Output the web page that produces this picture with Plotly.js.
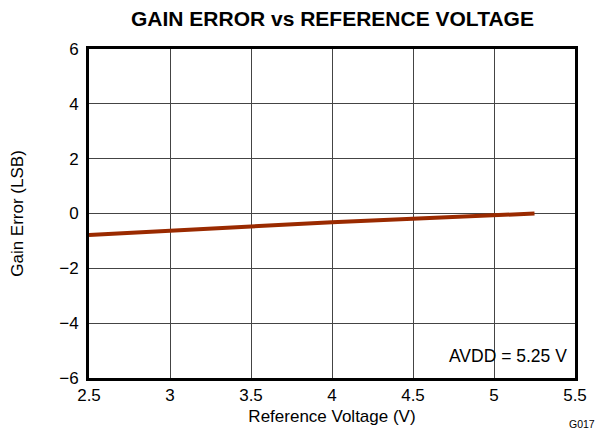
<!DOCTYPE html>
<html><head><meta charset="utf-8">
<script src="https://cdn.plot.ly/plotly-3.0.1.min.js"></script>
<style>html,body{margin:0;padding:0;background:#fff;}#chart{width:599px;height:434px;}</style>
</head><body><div id="chart"></div>
<script>
const refVoltage = [2.5, 3.0, 3.5, 4.0, 4.5, 5.0, 5.25];
const gainError = [-0.78, -0.64, -0.47, -0.32, -0.2, -0.05, 0.0];
const xTicks = [2.5, 3, 3.5, 4, 4.5, 5, 5.5];
const yTicks = [-6, -4, -2, 0, 2, 4, 6];

const font = 'Liberation Sans, Arial, sans-serif';
const trace = {
  x: refVoltage, y: gainError, mode: 'lines', type: 'scatter',
  line: {color: '#9a2a00', width: 4}, hoverinfo: 'skip'
};
const layout = {
  width: 599, height: 434,
  margin: {l: 89, r: 24, t: 49, b: 56},
  paper_bgcolor: '#fff', plot_bgcolor: '#fff',
  showlegend: false,
  font: {family: font, color: '#000', size: 16},
  title: {text: '<b>GAIN ERROR vs REFERENCE VOLTAGE</b>', font: {family: font, size: 21, color: '#000'},
          x: 0.555, xanchor: 'center', y: 0.957, yanchor: 'middle'},
  xaxis: {
    range: [2.5, 5.5], tickvals: xTicks, ticktext: xTicks.map(String),
    showgrid: true, gridcolor: '#444', gridwidth: 1,
    showline: true, linecolor: '#000', linewidth: 3, mirror: true,
    zeroline: false, ticks: '', ticklen: 0,
    tickfont: {family: font, size: 17},
    title: {text: 'Reference Voltage (V)', font: {family: font, size: 17}, standoff: 6}
  },
  yaxis: {
    range: [-6, 6], tickvals: yTicks, ticktext: yTicks.map(v => v < 0 ? '\u2212' + Math.abs(v) : String(v)),
    showgrid: true, gridcolor: '#444', gridwidth: 1,
    showline: true, linecolor: '#000', linewidth: 3, mirror: true,
    zeroline: false, ticks: '', ticklen: 0, ticklabelstandoff: 4,
    tickfont: {family: font, size: 17},
    title: {text: 'Gain Error (LSB)', font: {family: font, size: 17}, standoff: 32}
  },
  shapes: [{
    type: 'rect', xref: 'x', yref: 'y', x0: 4.66, x1: 5.5, y0: -6, y1: -4.35,
    fillcolor: '#fff', line: {width: 0}, layer: 'below'
  }],
  annotations: [
    {text: 'AVDD = 5.25 V', xref: 'x', yref: 'y', x: 5.465, y: -5.2, xanchor: 'right', yanchor: 'middle',
     showarrow: false, font: {family: font, size: 17.5, color: '#000'}},
    {text: 'G017', xref: 'paper', yref: 'paper', x: 1.045, y: -0.14, xanchor: 'right', yanchor: 'middle',
     showarrow: false, font: {family: font, size: 10.5, color: '#000'}}
  ]
};
Plotly.newPlot('chart', [trace], layout, {displayModeBar: false, staticPlot: true});
</script></body></html>
